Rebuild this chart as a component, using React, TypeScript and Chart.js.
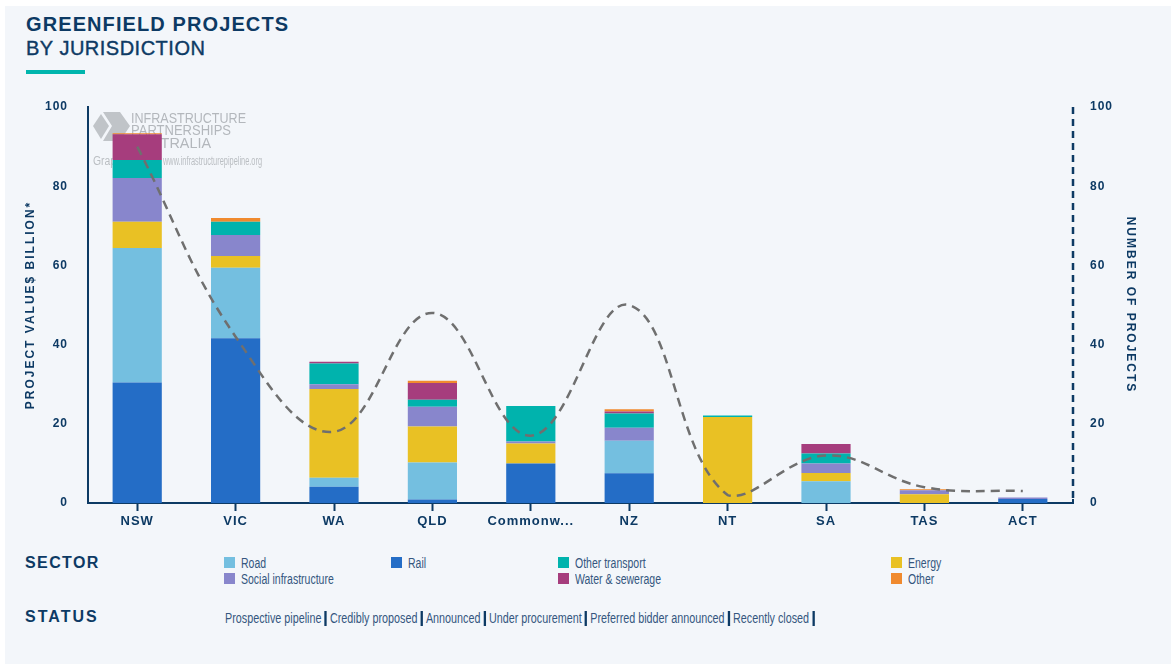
import React, { useEffect, useRef } from 'react';
import { Chart, registerables } from 'chart.js';

Chart.register(...registerables);

// ---------- DATA ----------
const categories = ['NSW', 'VIC', 'WA', 'QLD', 'Commonwealth', 'NZ', 'NT', 'SA', 'TAS', 'ACT'];

const railValues = [30.4, 41.6, 4.1, 0.9, 10.0, 7.5, 0, 0, 0, 1.0];
const roadValues = [34.0, 17.8, 2.3, 9.3, 0, 8.2, 0, 5.5, 0, 0];
const energyValues = [6.6, 3.0, 22.4, 9.1, 5.0, 0, 21.7, 2.1, 2.2, 0];
const socialValues = [11.1, 5.3, 1.2, 5.0, 0.5, 3.3, 0, 2.4, 1.0, 0.4];
const otherTransportValues = [4.5, 3.3, 5.2, 1.8, 9.0, 3.6, 0.4, 2.5, 0, 0];
const waterValues = [6.5, 0, 0.5, 4.2, 0, 0.5, 0, 2.4, 0, 0];
const otherValues = [0.3, 1.0, 0, 0.6, 0, 0.6, 0, 0, 0.3, 0];

const projectCounts = [90, 42, 18, 48, 17, 50, 2, 12, 4, 3];

const axisMin = 0;
const axisMax = 100;
const axisStep = 20;

const statusLabels = [
  'Prospective pipeline',
  'Credibly proposed',
  'Announced',
  'Under procurement',
  'Preferred bidder announced',
  'Recently closed',
];

// ---------- STYLE ----------
const NAVY = '#0d3a64';
const TEXT_BLUE = '#35567f';
const SANS = '"Liberation Sans", Arial, sans-serif';

const sectorColors: Record<string, string> = {
  Road: '#74bfe0',
  Rail: '#246dc6',
  'Other transport': '#00b3ad',
  Energy: '#e9c124',
  'Social infrastructure': '#8886cc',
  'Water & sewerage': '#a63d7d',
  Other: '#f08a2e',
};

// legend grid: [name, column, row]
const legendLayout: [string, number, number][] = [
  ['Road', 0, 0],
  ['Rail', 1, 0],
  ['Other transport', 2, 0],
  ['Energy', 3, 0],
  ['Social infrastructure', 0, 1],
  ['Water & sewerage', 2, 1],
  ['Other', 3, 1],
];
const legendColX = [224, 391, 558, 891];
const legendRowY = [557, 573];

const spacingPlugin = {
  id: 'letterSpacing',
  beforeDraw(chart: any) {
    (chart.ctx as any).letterSpacing = '1px';
  },
  afterDraw(chart: any) {
    (chart.ctx as any).letterSpacing = '0px';
  },
};

// dashed right-hand axis line (Chart.js borders do not support dashes)
const dashedAxisPlugin = {
  id: 'dashedAxis',
  beforeDatasetsDraw(chart: any) {
    const s = chart.scales.y1;
    if (!s) return;
    const ctx = chart.ctx as CanvasRenderingContext2D;
    ctx.save();
    ctx.strokeStyle = NAVY;
    ctx.lineWidth = 2.5;
    ctx.setLineDash([7, 5]);
    ctx.beginPath();
    ctx.moveTo(s.left + 1, s.top);
    ctx.lineTo(s.left + 1, s.bottom - 3);
    ctx.stroke();
    ctx.setLineDash([]);
    ctx.lineWidth = 2;
    ctx.beginPath();
    ctx.moveTo(s.left + 1, s.bottom - 4);
    ctx.lineTo(s.left + 1, s.bottom);
    ctx.lineTo(s.left - 4, s.bottom);
    ctx.stroke();
    ctx.restore();
  },
};

const watermarkPlugin = {
  id: 'watermark',
  beforeDatasetsDraw(chart: any) {
    const ctx = chart.ctx as CanvasRenderingContext2D;
    const { left, top } = chart.chartArea;
    ctx.save();
    (ctx as any).letterSpacing = '0px';
    ctx.fillStyle = '#c0c4c8';
    const lx = left + 5;
    const ly = top + 5;
    ctx.beginPath();
    ctx.moveTo(lx, ly + 14);
    ctx.lineTo(lx + 8, ly + 2);
    ctx.lineTo(lx + 16, ly + 14);
    ctx.lineTo(lx + 8, ly + 27);
    ctx.closePath();
    ctx.fill();
    ctx.beginPath();
    ctx.moveTo(lx + 10, ly);
    ctx.lineTo(lx + 27, ly);
    ctx.lineTo(lx + 37, ly + 14);
    ctx.lineTo(lx + 27, ly + 29);
    ctx.lineTo(lx + 10, ly + 29);
    ctx.lineTo(lx + 19, ly + 14);
    ctx.closePath();
    ctx.fill();
    ctx.fillStyle = '#b3b7bc';
    ctx.font = `15px ${SANS}`;
    ctx.textBaseline = 'alphabetic';
    ctx.textAlign = 'left';
    ctx.fillText('INFRASTRUCTURE', left + 43, top + 16, 115);
    ctx.fillText('PARTNERSHIPS', left + 43, top + 28, 100);
    ctx.fillText('AUSTRALIA', left + 43, top + 41, 80);
    ctx.fillStyle = '#babec2';
    ctx.font = `12px ${SANS}`;
    ctx.fillText('Graph source:', left + 5, top + 58, 66);
    ctx.fillText('www.infrastructurepipeline.org', left + 75, top + 58, 99);
    ctx.restore();
  },
};

function spacedTitle(s: any) {
  if (s.__spacedTitle) return;
  s.__spacedTitle = true;
  const orig = s.drawTitle;
  s.drawTitle = function (this: any) {
    const ctx = this.ctx as any;
    const prev = ctx.letterSpacing;
    ctx.letterSpacing = '2px';
    orig.call(this);
    ctx.letterSpacing = prev;
  };
}

function makeBar(label: string, data: number[]) {
  return {
    type: 'bar' as const,
    label,
    data,
    backgroundColor: sectorColors[label],
    borderWidth: 0,
    barPercentage: 0.5,
    categoryPercentage: 1,
    yAxisID: 'y',
    order: 1,
  };
}

export default function App() {
  const canvasRef = useRef<HTMLCanvasElement | null>(null);

  useEffect(() => {
    if (!canvasRef.current) return;
    const tickFont = { family: SANS, size: 12, weight: 'bold' as const };
    const chart = new Chart(canvasRef.current, {
      type: 'bar',
      data: {
        labels: categories,
        datasets: [
          {
            type: 'line' as const,
            label: 'Number of projects',
            data: projectCounts,
            yAxisID: 'y1',
            borderColor: '#6f6f6f',
            borderDash: [9, 6],
            borderWidth: 2.5,
            pointRadius: 0,
            tension: 0.4,
            fill: false,
            order: 0,
          } as any,
          makeBar('Rail', railValues),
          makeBar('Road', roadValues),
          makeBar('Energy', energyValues),
          makeBar('Social infrastructure', socialValues),
          makeBar('Other transport', otherTransportValues),
          makeBar('Water & sewerage', waterValues),
          makeBar('Other', otherValues),
        ],
      },
      options: {
        responsive: false,
        animation: false,
        events: [],
        layout: { padding: { top: 107, left: 0, right: 0, bottom: 0 } },
        plugins: {
          legend: { display: false },
          tooltip: { enabled: false },
        },
        scales: {
          x: {
            stacked: true,
            offset: true,
            grid: {
              display: true,
              drawOnChartArea: false,
              drawTicks: true,
              tickLength: 8,
              tickWidth: 2,
              tickColor: NAVY,
              offset: false,
            },
            border: { display: true, color: NAVY, width: 2 },
            ticks: {
              color: NAVY,
              font: { family: SANS, size: 13, weight: 'bold' },
              padding: 3,
              maxRotation: 0,
              autoSkip: false,
              callback: function (this: any, value: any) {
                const label = String(this.getLabelForValue(value));
                return label.length > 8 ? label.slice(0, 7) + '...' : label;
              },
            },
            afterFit: (s: any) => {
              s.height = 37;
            },
          },
          y: {
            stacked: true,
            position: 'left',
            min: axisMin,
            max: axisMax,
            grid: { display: false, drawTicks: false },
            border: { display: true, color: NAVY, width: 2 },
            ticks: { stepSize: axisStep, color: NAVY, font: tickFont, padding: 20 },
            title: {
              display: true,
              text: 'PROJECT VALUE$ BILLION*',
              color: NAVY,
              font: { family: SANS, size: 12, weight: 'bold' },
              padding: { top: 23, bottom: 0 },
            },
            afterFit: (s: any) => {
              s.width = 88;
              spacedTitle(s);
            },
          },
          y1: {
            stacked: false,
            position: 'right',
            min: axisMin,
            max: axisMax,
            grid: { display: false, drawTicks: false },
            border: { display: false },
            ticks: { stepSize: axisStep, color: NAVY, font: tickFont, padding: 18 },
            title: {
              display: true,
              text: 'NUMBER OF PROJECTS',
              color: NAVY,
              font: { family: SANS, size: 12, weight: 'bold' },
              padding: { top: 33, bottom: 0 },
            },
            afterFit: (s: any) => {
              s.width = 99;
              spacedTitle(s);
            },
          },
        },
      } as any,
      plugins: [spacingPlugin, dashedAxisPlugin, watermarkPlugin],
    });
    return () => chart.destroy();
  }, []);

  const condensed = (scale: number): React.CSSProperties => ({
    display: 'inline-block',
    transform: `scaleX(${scale})`,
    transformOrigin: 'left top',
    whiteSpace: 'nowrap',
    font: `14px ${SANS}`,
    lineHeight: '14px',
    color: TEXT_BLUE,
  });

  return (
    <div
      style={{
        position: 'absolute',
        left: 0,
        top: 0,
        width: 1171,
        height: 664,
        background: '#ffffff',
        overflow: 'hidden',
        fontFamily: SANS,
      }}
    >
      <div style={{ position: 'absolute', left: 5, top: 6, right: 0, bottom: 0, background: '#f3f6fa' }} />
      <div
        style={{
          position: 'absolute',
          left: 26,
          top: 14,
          font: `bold 20px ${SANS}`,
          lineHeight: '20px',
          letterSpacing: '1.1px',
          color: NAVY,
          whiteSpace: 'nowrap',
        }}
      >
        GREENFIELD PROJECTS
      </div>
      <div
        style={{
          position: 'absolute',
          left: 26,
          top: 38,
          font: `20px ${SANS}`,
          lineHeight: '20px',
          letterSpacing: '0.5px',
          color: NAVY,
          whiteSpace: 'nowrap',
          WebkitTextStroke: '0.4px ' + NAVY,
        }}
      >
        BY JURISDICTION
      </div>
      <div style={{ position: 'absolute', left: 26, top: 70, width: 59, height: 4, background: '#00b5ad' }} />

      <canvas
        ref={canvasRef}
        width={1171}
        height={540}
        style={{ position: 'absolute', left: 0, top: 0, width: 1171, height: 540 }}
      />

      <div
        style={{
          position: 'absolute',
          left: 25,
          top: 555,
          font: `bold 16px ${SANS}`,
          lineHeight: '16px',
          letterSpacing: '1.4px',
          color: NAVY,
        }}
      >
        SECTOR
      </div>
      {legendLayout.map(([name, col, row]) => (
        <div
          key={name}
          style={{ position: 'absolute', left: legendColX[col], top: legendRowY[row], height: 14, whiteSpace: 'nowrap' }}
        >
          <span
            style={{
              position: 'absolute',
              left: 0,
              top: 0,
              width: 11,
              height: 11,
              background: sectorColors[name],
            }}
          />
          <span style={{ ...condensed(0.75), position: 'absolute', left: 17, top: -1 }}>{name}</span>
        </div>
      ))}

      <div
        style={{
          position: 'absolute',
          left: 25,
          top: 609,
          font: `bold 16px ${SANS}`,
          lineHeight: '16px',
          letterSpacing: '2px',
          color: NAVY,
        }}
      >
        STATUS
      </div>
      <div style={{ ...condensed(0.77), position: 'absolute', left: 225, top: 611 }}>
        {statusLabels.map((s) => (
          <React.Fragment key={s}>
            <span>{s}</span>
            <span
              style={{
                display: 'inline-block',
                width: 3,
                height: 15,
                background: NAVY,
                margin: '0 4px 0 4px',
                verticalAlign: '-3px',
              }}
            />
          </React.Fragment>
        ))}
      </div>
    </div>
  );
}
